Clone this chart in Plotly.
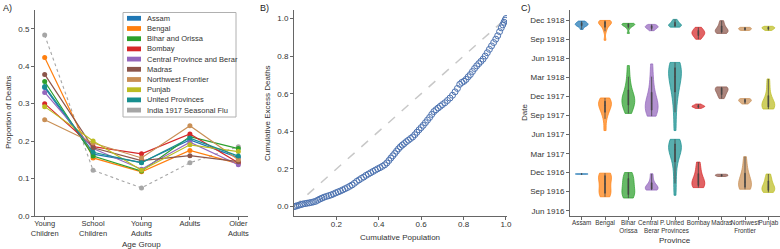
import plotly.graph_objects as go

W, H = 780, 249
FONT = "Liberation Sans, Arial, sans-serif"

# ---------------- Panel A data ----------------
age_groups = ["Young<br>Children", "School<br>Children", "Young<br>Adults", "Adults", "Older<br>Adults"]
legend_names = ["Assam", "Bengal", "Bihar and Orissa", "Bombay", "Central Province and Berar",
                "Madras", "Northwest Frontier", "Punjab", "United Provinces", "India 1917 Seasonal Flu"]
assam_prop = [0.343, 0.165, 0.143, 0.203, 0.156]
bengal_prop = [0.423, 0.155, 0.118, 0.175, 0.140]
bihar_prop = [0.359, 0.160, 0.120, 0.212, 0.180]
bombay_prop = [0.300, 0.185, 0.166, 0.219, 0.142]
central_prop = [0.330, 0.180, 0.125, 0.197, 0.137]
madras_prop = [0.378, 0.182, 0.148, 0.161, 0.145]
nwf_prop = [0.257, 0.195, 0.155, 0.241, 0.150]
punjab_prop = [0.292, 0.200, 0.122, 0.190, 0.172]
up_prop = [0.346, 0.170, 0.142, 0.208, 0.160]
flu_prop = [0.483, 0.122, 0.075, 0.142, 0.185]

# ---------------- Panel B data ----------------
cum_pop = [0.000, 0.008, 0.016, 0.025, 0.034, 0.042, 0.052, 0.062, 0.072, 0.082, 0.092, 0.102, 0.112,
           0.122, 0.132, 0.142, 0.153, 0.164, 0.175, 0.186, 0.197, 0.208, 0.219, 0.230, 0.241, 0.252,
           0.263, 0.274, 0.285, 0.296, 0.307, 0.318, 0.329, 0.340, 0.351, 0.362, 0.373, 0.384, 0.395,
           0.406, 0.417, 0.428, 0.438, 0.448, 0.457, 0.466, 0.475, 0.484, 0.493, 0.502, 0.511, 0.520,
           0.530, 0.540, 0.550, 0.560, 0.570, 0.580, 0.590, 0.600, 0.610, 0.620, 0.630, 0.640, 0.650,
           0.660, 0.670, 0.680, 0.690, 0.700, 0.712, 0.724, 0.736, 0.748, 0.760, 0.771, 0.782, 0.792,
           0.802, 0.812, 0.822, 0.832, 0.842, 0.852, 0.862, 0.872, 0.882, 0.892, 0.902, 0.912, 0.922,
           0.932, 0.942, 0.952, 0.961, 0.970, 0.978, 0.985, 0.991, 0.996, 1.000]
cum_deaths = [0.000, 0.002, 0.005, 0.008, 0.011, 0.014, 0.016, 0.018, 0.020, 0.022, 0.025, 0.028, 0.034,
              0.040, 0.045, 0.050, 0.054, 0.058, 0.062, 0.067, 0.073, 0.078, 0.083, 0.089, 0.095, 0.101,
              0.108, 0.115, 0.124, 0.134, 0.142, 0.150, 0.157, 0.166, 0.173, 0.180, 0.187, 0.194, 0.201,
              0.207, 0.214, 0.222, 0.232, 0.245, 0.258, 0.270, 0.282, 0.295, 0.307, 0.318, 0.327, 0.335,
              0.345, 0.353, 0.362, 0.370, 0.382, 0.395, 0.408, 0.420, 0.432, 0.446, 0.460, 0.474, 0.490,
              0.505, 0.515, 0.524, 0.533, 0.542, 0.552, 0.564, 0.577, 0.592, 0.610, 0.628, 0.650, 0.660,
              0.666, 0.676, 0.690, 0.702, 0.718, 0.734, 0.748, 0.760, 0.772, 0.784, 0.800, 0.818, 0.836,
              0.854, 0.872, 0.890, 0.908, 0.930, 0.950, 0.966, 0.980, 0.991, 1.000]

# ---------------- Panel C data ----------------
violin_provinces = ["Assam", "Bengal", "Bihar<br>Orissa", "Central P.<br>Berar", "United<br>Provinces",
                    "Bombay", "Madras", "Northwest<br>Frontier", "Punjab"]
date_ticks = ["1916-06-01", "1916-09-01", "1916-12-01", "1917-03-01", "1917-06-01", "1917-09-01",
              "1917-12-01", "1918-03-01", "1918-06-01", "1918-09-01", "1918-12-01"]

assam_1916 = ["1916-11-23", "1916-11-24", "1916-11-25"]
assam_1918 = ["1918-10-17", "1918-10-30", "1918-11-04", "1918-11-07", "1918-11-09", "1918-11-11",
              "1918-11-14", "1918-11-18", "1918-11-22", "1918-11-26"]
bengal_1916 = ["1916-08-07", "1916-08-14", "1916-08-21", "1916-09-02", "1916-09-18", "1916-10-08",
               "1916-10-26", "1916-11-10", "1916-11-18", "1916-11-24", "1916-11-28"]
bengal_1917 = ["1917-06-20", "1917-08-15", "1917-09-12", "1917-09-28", "1917-10-08", "1917-10-18",
               "1917-10-26", "1917-11-02", "1917-11-09", "1917-11-16", "1917-11-23"]
bengal_1918 = ["1918-08-26", "1918-10-08", "1918-10-25", "1918-11-05", "1918-11-12", "1918-11-16",
               "1918-11-19", "1918-11-21", "1918-11-24", "1918-11-27", "1918-11-29"]
bihar_1916 = ["1916-08-01", "1916-08-08", "1916-08-15", "1916-08-26", "1916-09-08", "1916-09-22",
              "1916-10-08", "1916-10-22", "1916-11-06", "1916-11-20", "1916-12-01"]
bihar_1917 = ["1917-09-10", "1917-09-22", "1917-10-06", "1917-10-18", "1917-10-28", "1917-11-05",
              "1917-11-12", "1917-11-18", "1917-11-26", "1917-12-05", "1917-12-16", "1918-01-05",
              "1918-02-01", "1918-03-05", "1918-04-27"]
bihar_1918 = ["1918-09-28", "1918-10-22", "1918-11-01", "1918-11-05", "1918-11-08", "1918-11-10",
              "1918-11-12", "1918-11-14", "1918-11-15"]
central_1916 = ["1916-09-08", "1916-09-11", "1916-09-14", "1916-09-17", "1916-09-21", "1916-09-27",
                "1916-10-08", "1916-10-28", "1916-11-25"]
central_1917 = ["1917-08-28", "1917-09-06", "1917-09-16", "1917-09-26", "1917-10-06", "1917-10-14",
                "1917-10-22", "1917-11-01", "1917-11-12", "1917-11-28", "1917-12-20", "1918-01-25",
                "1918-03-05", "1918-05-05"]
central_1918 = ["1918-10-11", "1918-10-19", "1918-10-24", "1918-10-27", "1918-10-30", "1918-11-02",
                "1918-11-05", "1918-11-10"]
up_1916 = ["1916-08-14", "1916-10-10", "1916-12-01", "1917-01-15", "1917-02-10", "1917-02-28",
           "1917-03-10", "1917-03-20", "1917-03-28", "1917-04-05", "1917-04-12", "1917-04-18",
           "1917-04-24", "1917-05-01", "1917-05-09"]
up_1917 = ["1917-06-20", "1917-09-15", "1917-11-20", "1917-12-22", "1918-01-18", "1918-02-08",
           "1918-02-26", "1918-03-12", "1918-03-26", "1918-04-06", "1918-04-16", "1918-04-25",
           "1918-05-03", "1918-05-12"]
up_1918 = ["1918-10-28", "1918-11-01", "1918-11-03", "1918-11-05", "1918-11-08", "1918-11-12",
           "1918-11-18", "1918-11-25", "1918-12-04"]
bombay_1916 = ["1916-09-20", "1916-09-24", "1916-09-29", "1916-10-04", "1916-10-10", "1916-10-18",
               "1916-10-28", "1916-11-10", "1916-12-01", "1916-12-26", "1917-01-20"]
bombay_1917 = ["1917-10-04", "1917-10-10", "1917-10-13", "1917-10-15", "1917-10-18", "1917-10-25"]
bombay_1918 = ["1918-08-31", "1918-09-10", "1918-09-18", "1918-09-24", "1918-09-28", "1918-10-02",
               "1918-10-06", "1918-10-12", "1918-10-20", "1918-10-27"]
madras_1916 = ["1916-11-12", "1916-11-15", "1916-11-18", "1916-11-20", "1916-11-23"]
madras_1917 = ["1917-11-20", "1917-12-02", "1917-12-12", "1917-12-21", "1917-12-29", "1918-01-04",
               "1918-01-08", "1918-01-12", "1918-01-15"]
madras_1918 = ["1918-09-28", "1918-10-02", "1918-10-05", "1918-10-08", "1918-10-12", "1918-10-16",
               "1918-10-22", "1918-11-02", "1918-11-15", "1918-11-28"]
nwf_1916 = ["1916-09-12", "1916-09-15", "1916-09-20", "1916-09-28", "1916-10-06", "1916-10-16",
            "1916-10-27", "1916-11-12", "1916-12-03", "1917-01-02", "1917-02-15"]
nwf_1917 = ["1917-10-25", "1917-11-02", "1917-11-08", "1917-11-12", "1917-11-16", "1917-11-20"]
nwf_1918 = ["1918-10-12", "1918-10-16", "1918-10-20", "1918-10-24", "1918-10-27"]
punjab_1916 = ["1916-08-28", "1916-09-02", "1916-09-06", "1916-09-10", "1916-09-15", "1916-09-22",
               "1916-10-01", "1916-10-12", "1916-10-25", "1916-11-10", "1916-11-24"]
punjab_1917 = ["1917-10-01", "1917-10-05", "1917-10-10", "1917-10-15", "1917-10-20", "1917-10-26",
               "1917-11-04", "1917-11-16", "1917-12-10", "1918-01-15", "1918-02-22"]
punjab_1918 = ["1918-10-12", "1918-10-18", "1918-10-22", "1918-10-25", "1918-10-28", "1918-11-01"]

# ---------------- Styles ----------------
C_ASSAM, C_BENGAL, C_BIHAR, C_BOMBAY = "#1f77b4", "#ff7f0e", "#2ca02c", "#d62728"
C_CENTRAL, C_MADRAS, C_NWF, C_PUNJAB = "#9467bd", "#8c564b", "#c98f55", "#bcbd22"
C_UP, C_FLU = "#178f8f", "#a6a6a6"
AXC = "#666666"
TXT = "#333333"


def rgba(hex_color, a):
    h = hex_color.lstrip("#")
    return "rgba(%d,%d,%d,%.2f)" % (int(h[0:2], 16), int(h[2:4], 16), int(h[4:6], 16), a)


def px_x(p):
    return p / W


def px_y(p):
    return 1 - p / H


fig = go.Figure()

# Panel A lines
series_a = [(assam_prop, C_ASSAM), (bengal_prop, C_BENGAL), (bihar_prop, C_BIHAR), (bombay_prop, C_BOMBAY),
            (central_prop, C_CENTRAL), (madras_prop, C_MADRAS), (nwf_prop, C_NWF), (punjab_prop, C_PUNJAB),
            (up_prop, C_UP)]
fig.add_trace(go.Scatter(x=age_groups, y=flu_prop, mode="lines+markers", name=legend_names[-1],
                         line=dict(color=C_FLU, width=1.1, dash="dot"), marker=dict(color=C_FLU, size=5),
                         xaxis="x", yaxis="y", showlegend=False))
for (vals, col), name in zip(series_a, legend_names):
    fig.add_trace(go.Scatter(x=age_groups, y=vals, mode="lines+markers", name=name,
                             line=dict(color=col, width=1.2), marker=dict(color=col, size=5),
                             xaxis="x", yaxis="y", showlegend=False))

# Panel B
fig.add_trace(go.Scatter(x=[0, 1], y=[0, 1], mode="lines", line=dict(color="#c8c8c8", width=1.5, dash="dash"),
                         xaxis="x2", yaxis="y2", showlegend=False))
fig.add_trace(go.Scatter(x=cum_pop, y=cum_deaths, mode="markers",
                         marker=dict(symbol="circle-open", size=6, color="#4c72b0", line=dict(width=1.0)),
                         xaxis="x2", yaxis="y2", showlegend=False))

# Panel C violins
violin_sets = [
    (0, [assam_1916, assam_1918], C_ASSAM),
    (1, [bengal_1916, bengal_1917, bengal_1918], C_BENGAL),
    (2, [bihar_1916, bihar_1917, bihar_1918], C_BIHAR),
    (3, [central_1916, central_1917, central_1918], C_CENTRAL),
    (4, [up_1916, up_1917, up_1918], C_UP),
    (5, [bombay_1916, bombay_1917, bombay_1918], C_BOMBAY),
    (6, [madras_1916, madras_1917, madras_1918], C_MADRAS),
    (7, [nwf_1916, nwf_1917, nwf_1918], C_NWF),
    (8, [punjab_1916, punjab_1917, punjab_1918], C_PUNJAB),
]
for idx, groups, col in violin_sets:
    for samples in groups:
        fig.add_trace(go.Violin(
            x=[violin_provinces[idx]] * len(samples), y=samples, xaxis="x3", yaxis="y3",
            spanmode="hard", scalemode="width", width=0.55, points=False,
            fillcolor=rgba(col, 0.72), line=dict(color=rgba(col, 0.9), width=0.8),
            box=dict(visible=True, width=0.06, fillcolor="#444444", line=dict(color="#444444", width=0.8)),
            meanline=dict(visible=False), showlegend=False, hoverinfo="skip"))

# Axes
ydom = [px_y(216), px_y(10)]
common = dict(showline=True, linecolor=AXC, linewidth=1, ticks="outside", ticklen=3, tickcolor=AXC,
              showgrid=False, zeroline=False, automargin=False,
              tickfont=dict(family=FONT, size=8, color=TXT))
xcommon = dict(common)
xcommon["ticklabelstandoff"] = -3
fig.update_layout(
    xaxis=dict(domain=[px_x(35), px_x(248)], anchor="y", type="category", categoryorder="array",
               categoryarray=age_groups, range=[-0.2, 4.2], tickangle=0,
               **{**xcommon, "tickfont": dict(family=FONT, size=7.5, color=TXT)}),
    yaxis=dict(domain=ydom, anchor="x", range=[0, 0.55], tickvals=[0, 0.1, 0.2, 0.3, 0.4, 0.5],
               tickformat=".1f", **common),
    xaxis2=dict(domain=[px_x(294), px_x(507)], anchor="y2", range=[0, 1.005],
                tickvals=[0.2, 0.4, 0.6, 0.8, 1.0], tickformat=".1f", **xcommon),
    yaxis2=dict(domain=ydom, anchor="x2", range=[-0.05, 1.045],
                tickvals=[0, 0.2, 0.4, 0.6, 0.8, 1.0], tickformat=".1f", **common),
    xaxis3=dict(domain=[px_x(570), 1.0], anchor="y3", type="category", categoryorder="array",
                categoryarray=violin_provinces, range=[-0.5, 8.5], tickangle=0,
                **{**xcommon, "tickfont": dict(family=FONT, size=6.3, color=TXT)}),
    yaxis3=dict(domain=ydom, anchor="x3", type="date", range=["1916-05-07", "1919-01-18"],
                tickvals=date_ticks, tickformat="%b %Y", **common),
    violinmode="overlay",
    width=W, height=H, autosize=False, margin=dict(l=0, r=0, t=0, b=0, pad=0, autoexpand=False),
    paper_bgcolor="white", plot_bgcolor="white", showlegend=False,
    font=dict(family=FONT, size=8, color=TXT),
)

ann = []
# panel labels
for txt, x in [("A)", 1), ("B)", 258), ("C)", 519)]:
    ann.append(dict(text=txt, x=px_x(x), y=px_y(1), xref="paper", yref="paper", xanchor="left",
                    yanchor="top", showarrow=False, font=dict(family=FONT, size=9, color="#222")))
# axis titles
titles = [
    dict(text="Proportion of Deaths", x=px_x(8), y=px_y(113), textangle=-90),
    dict(text="Age Group", x=px_x(141), y=px_y(244)),
    dict(text="Cumulative Excess Deaths", x=px_x(267), y=px_y(113), textangle=-90),
    dict(text="Cumulative Population", x=px_x(400), y=px_y(237)),
    dict(text="Date", x=px_x(524), y=px_y(113), textangle=-90),
    dict(text="Province", x=px_x(675), y=px_y(240)),
]
for a in titles:
    a.update(xref="paper", yref="paper", showarrow=False, xanchor="center", yanchor="middle",
             font=dict(family=FONT, size=8, color=TXT))
ann += titles

# manual legend for panel A
legend_colors = [C_ASSAM, C_BENGAL, C_BIHAR, C_BOMBAY, C_CENTRAL, C_MADRAS, C_NWF, C_PUNJAB, C_UP, C_FLU]
shapes = [dict(type="rect", xref="paper", yref="paper", x0=px_x(123), x1=px_x(236), y0=px_y(117),
               y1=px_y(12.5), line=dict(color="#b0b0b0", width=1), fillcolor="white", layer="above")]
for i, (name, col) in enumerate(zip(legend_names, legend_colors)):
    yc = 18.3 + 10.2 * i
    shapes.append(dict(type="rect", xref="paper", yref="paper", x0=px_x(127), x1=px_x(141),
                       y0=px_y(yc + 2.4), y1=px_y(yc - 2.4), line=dict(width=0), fillcolor=col,
                       layer="above"))
    ann.append(dict(text=name, x=px_x(145), y=px_y(yc), xref="paper", yref="paper", xanchor="left",
                    yanchor="middle", showarrow=False, font=dict(family=FONT, size=7.5, color=TXT)))

fig.update_layout(annotations=ann, shapes=shapes)
fig.write_html(
    "out.html",
    config={"displayModeBar": False, "responsive": False},
    post_script=("document.documentElement.style.margin='0px';document.documentElement.style.overflow='hidden';"
                 "document.body.style.margin='0px';document.body.style.padding='0px';"
                 "document.body.style.overflow='hidden';"),
)
